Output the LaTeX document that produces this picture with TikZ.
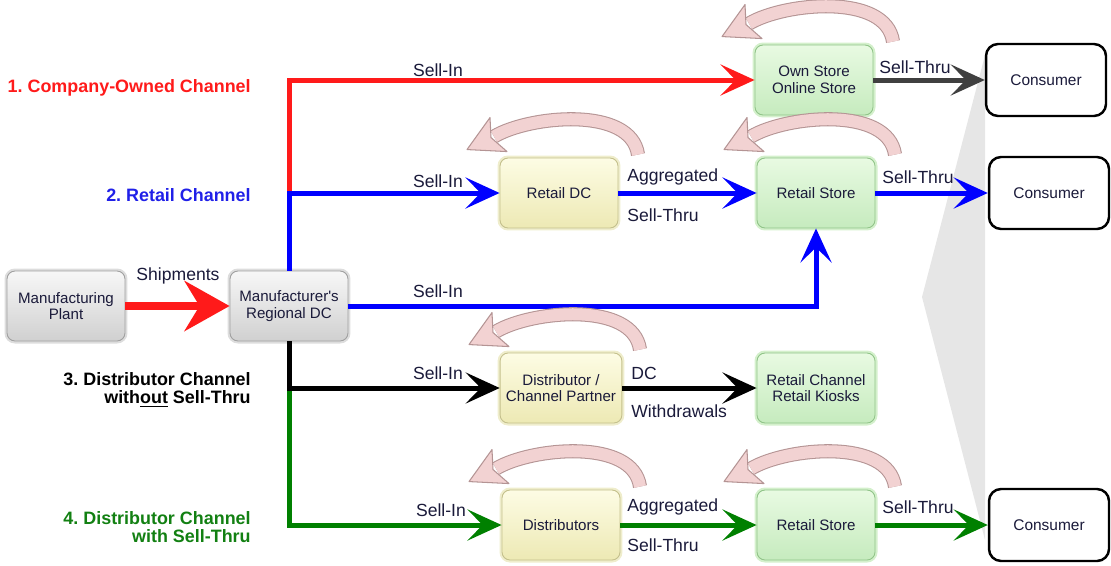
\documentclass[tikz,border=0pt]{standalone}
\usepackage{fontspec}
\setmainfont{Liberation Sans}
\usepackage{tikz}
\usetikzlibrary{arrows.meta}
\frenchspacing

\definecolor{chred}{HTML}{FF1A1A}
\definecolor{chblue}{HTML}{0000FF}
\definecolor{chgreen}{HTML}{008000}
\definecolor{chdark}{HTML}{404040}
\definecolor{hdblue}{HTML}{2020E8}
\definecolor{hdgreen}{HTML}{128012}
\definecolor{boxtext}{HTML}{1A1A3A}
\definecolor{graytop}{HTML}{F7F7F7}
\definecolor{graybot}{HTML}{D0D0D0}
\definecolor{grayedge}{HTML}{A0A0A0}
\definecolor{grayglow}{HTML}{DDDDDD}
\definecolor{yeltop}{HTML}{FDFCE4}
\definecolor{yelbot}{HTML}{EDE9B4}
\definecolor{yeledge}{HTML}{C4C08C}
\definecolor{yelglow}{HTML}{EFEDCC}
\definecolor{grntop}{HTML}{E8FAE2}
\definecolor{grnbot}{HTML}{C6EBBE}
\definecolor{grnedge}{HTML}{90C488}
\definecolor{grnglow}{HTML}{D4F0CC}
\definecolor{pinkfill}{HTML}{F2D2D2}
\definecolor{pinkline}{HTML}{B49494}
\definecolor{wedgegray}{HTML}{E6E6E6}

\tikzset{
  box/.style={rounded corners=0.16cm, minimum width=2.36cm, minimum height=1.4cm,
    align=center, font=\fontsize{8.6}{9.4}\selectfont, text=boxtext, line width=0.5pt},
  graybox/.style={box, draw=grayedge, top color=graytop, bottom color=graybot,
    preaction={draw=grayglow, line width=0.1cm}},
  yelbox/.style={box, draw=yeledge, top color=yeltop, bottom color=yelbot,
    preaction={draw=yelglow, line width=0.1cm}},
  grnbox/.style={box, draw=grnedge, top color=grntop, bottom color=grnbot,
    preaction={draw=grnglow, line width=0.1cm}},
  consumer/.style={draw=black, fill=white, line width=1.4pt, rounded corners=0.24cm,
    minimum width=2.4cm, minimum height=1.44cm, font=\fontsize{8.8}{10}\selectfont, text=boxtext},
  chan/.style={draw=#1, line width=0.1cm},
  lbl/.style={font=\fontsize{10}{12}\selectfont, text=boxtext, inner sep=0pt},
  heading/.style={font=\fontsize{10.2}{10.6}\selectfont\bfseries, align=right, anchor=east, inner sep=0pt},
  loopband/.style={draw=pinkline, line width=0.6pt, double=pinkfill, double distance=0.24cm},
  loophead/.style={fill=pinkfill, draw=pinkline, line width=0.6pt, line join=round}
}

\begin{document}
\begin{tikzpicture}[x=0.02cm, y=-0.02cm, >={Stealth[length=0.68cm,width=0.62cm,inset=0.3cm]}]
\useasboundingbox (0,0) rectangle (1111,565);

% bracket behind the consumers
\fill[wedgegray] (985,55) -- (922,297) -- (985,540) -- cycle;

% boxes
\node[graybox] (plant) at (66,306) {Manufacturing\\Plant};
\node[graybox] (regdc) at (289,306) {Manufacturer\textquotesingle s\\Regional DC};
\node[grnbox] (own) at (814,80) {Own Store\\Online Store};
\node[consumer] (cons1) at (1046,80) {Consumer};
\node[yelbox] (retaildc) at (559,193) {Retail DC};
\node[grnbox] (store2) at (816,193) {Retail Store};
\node[consumer] (cons2) at (1049,193) {Consumer};
\node[yelbox] (distp) at (561,388) {Distributor /\\Channel Partner};
\node[grnbox] (kiosk) at (816,388) {Retail Channel\\Retail Kiosks};
\node[yelbox] (dists) at (561,525) {Distributors};
\node[grnbox] (store4) at (816,525) {Retail Store};
\node[consumer] (cons4) at (1049,525) {Consumer};

% channel headings
\node[heading, text=chred] (h1) at (251,88) {1. Company-Owned Channel};
\node[heading, text=hdblue] (h2) at (251,195) {2. Retail Channel};
\node[heading, text=black] (h3) at (251,390) {3. Distributor Channel\\with\underline{out} Sell-Thru};
\node[heading, text=hdgreen] (h4) at (251,527) {4. Distributor Channel\\with Sell-Thru};

% connectors
\draw[chred, line width=0.16cm, -{Stealth[length=0.9cm,width=1cm,inset=0.3cm]}] (plant) -- (regdc);
\draw[chan=chred, ->] (regdc.north) |- (own.west);
\draw[chan=chblue, ->] (regdc.north) |- (retaildc.west);
\draw[chan=chblue, ->] (regdc.east) -| (store2.south);
\draw[chan=chgreen, ->] (regdc.south) |- (dists.west);
\draw[chan=black, ->] (regdc.south) |- (distp.west);
\draw[chan=chdark, ->] (own) -- (cons1);
\draw[chan=chblue, ->] (retaildc) -- (store2);
\draw[chan=chblue, ->] (store2) -- (cons2);
\draw[chan=black, ->] (distp) -- (kiosk);
\draw[chan=chgreen, ->] (dists) -- (store4);
\draw[chan=chgreen, ->] (store4) -- (cons4);

% connector labels
\node[lbl] (ship) at (178,276) {Shipments};
\node[lbl] (in1) at (438,70) {Sell-In};
\node[lbl] (in2) at (438,181) {Sell-In};
\node[lbl] (in2b) at (438,291) {Sell-In};
\node[lbl] (in3) at (438,373) {Sell-In};
\node[lbl] (in4) at (441,510) {Sell-In};
\node[lbl, anchor=west] (thru1) at (879,67) {Sell-Thru};
\node[lbl, anchor=west] (agg2) at (627,177) {Aggregated};
\node[lbl, anchor=west] (thru2a) at (627,215) {Sell-Thru};
\node[lbl, anchor=west] (thru2b) at (882,177) {Sell-Thru};
\node[lbl, anchor=west] (dc3) at (631,373) {DC};
\node[lbl, anchor=west] (wd3) at (631,411) {Withdrawals};
\node[lbl, anchor=west] (agg4) at (627,507) {Aggregated};
\node[lbl, anchor=west] (thru4a) at (627,545) {Sell-Thru};
\node[lbl, anchor=west] (thru4b) at (882,507) {Sell-Thru};

% curled arrows over the stock points
\foreach \nd in {own,retaildc,store2,distp,dists,store4}{
  \begin{scope}[shift={(\nd.north)}]
    \draw[loopband] (79,-3) .. controls (72,-52) and (-30,-42) .. (-65,-21);
    \filldraw[loophead] (-92,-8) -- (-52,-6) -- (-68,-20) -- (-69,-40) -- cycle;
  \end{scope}
}
\end{tikzpicture}
\end{document}
